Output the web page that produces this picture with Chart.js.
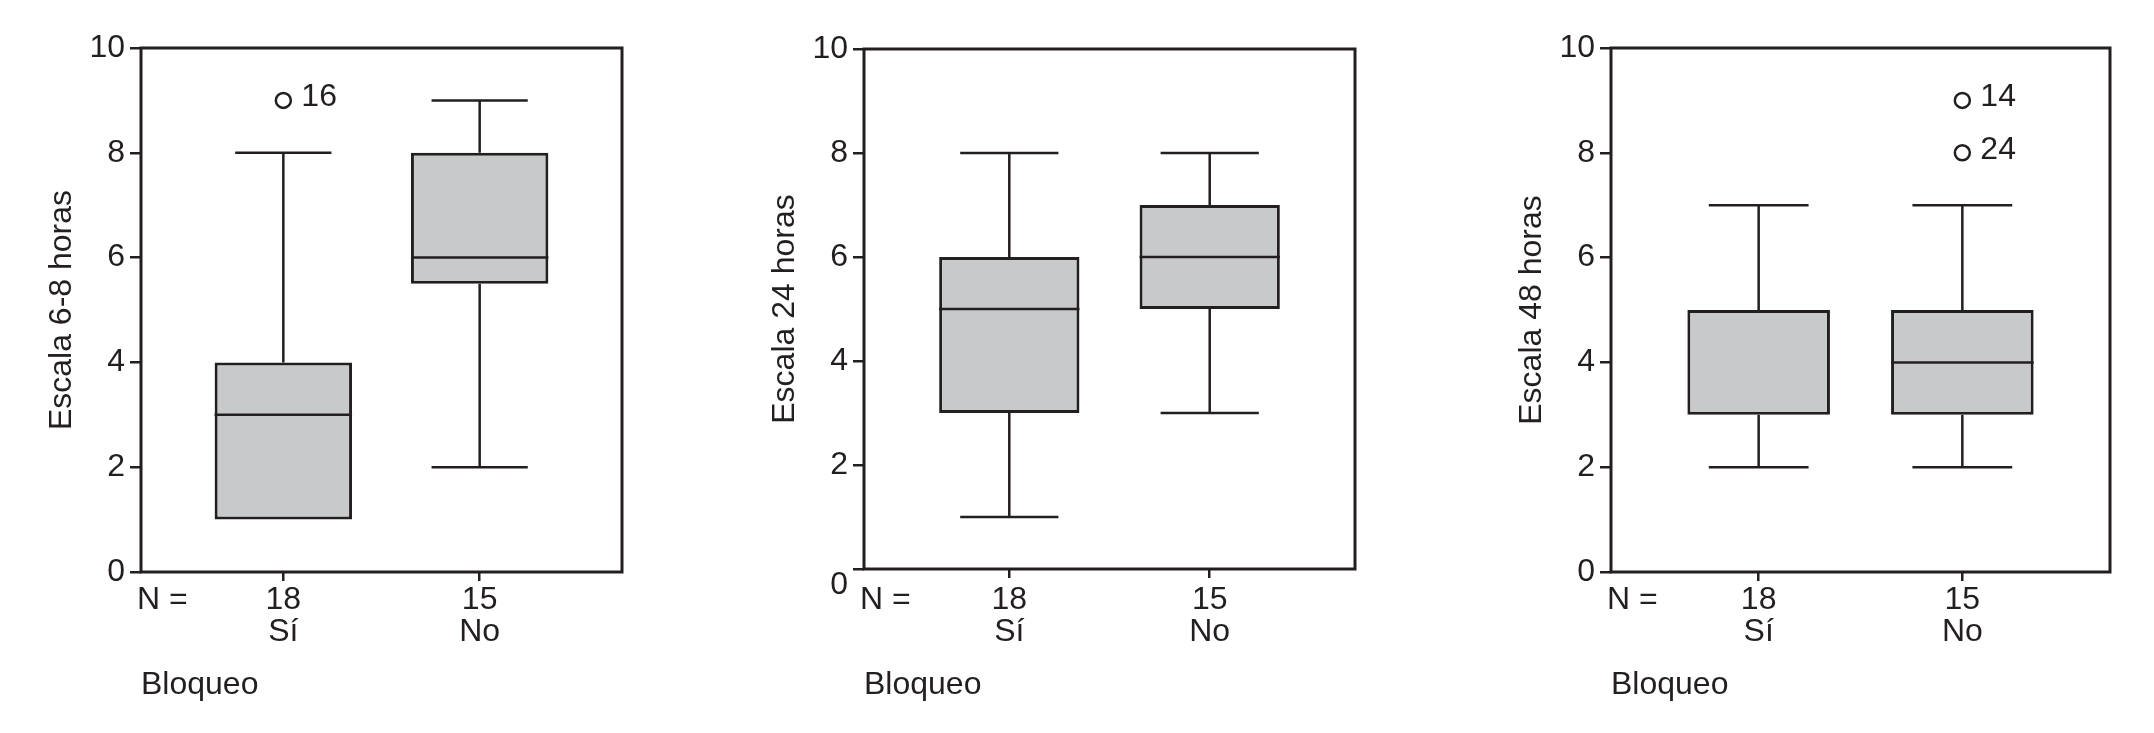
<!DOCTYPE html>
<html>
<head>
<meta charset="utf-8">
<script src="https://cdn.jsdelivr.net/npm/chart.js@4.4.1/dist/chart.umd.min.js"></script>
<style>
  html, body { margin: 0; padding: 0; background: #fff; }
  #wrap { position: relative; width: 2154px; height: 733px; overflow: hidden; background: #fff; }
  #wrap canvas { position: absolute; top: 0; }
</style>
</head>
<body>
<div id="wrap"></div>
<script>
// categories and counts (same for the three panels)
const CATEGORIES = ['Sí', 'No'];
const N_COUNTS = [18, 15];
const Y_TICKS = [0, 2, 4, 6, 8, 10];
const Y_TITLES = ['Escala 6-8 horas', 'Escala 24 horas', 'Escala 48 horas'];
const X_TITLE = 'Bloqueo';

// box plot summaries, one row per panel, [Sí, No]
const WHISKER_LOW  = [[1, 2],   [1, 3], [2, 2]];
const Q1           = [[1, 5.5], [3, 5], [3, 3]];
const MEDIAN       = [[3, 6],   [5, 6], [5, 4]];
const Q3           = [[4, 8],   [6, 7], [5, 5]];
const WHISKER_HIGH = [[8, 9],   [8, 8], [7, 7]];

// outliers, one row per panel
const OUTLIER_GROUP = [[0], [], [1, 1]];
const OUTLIER_VALUE = [[9], [], [9, 8]];
const OUTLIER_ID    = [['16'], [], ['14', '24']];

// look
const INK = '#231f20';
const BOX_FILL = '#c8c9cb';
const FONT = '"Liberation Sans", Arial, Helvetica, sans-serif';
const FONT_SIZE = 32;
const BOX_WIDTH = 0.7;   // share of the gap between categories
const CAP_WIDTH = 0.49;
const X_MIN = -0.725, X_MAX = 1.725;

// plot frames measured on the reference (page pixels)
const FRAMES = [
  { left: 141, right: 622, top: 48, bottom: 572 },
  { left: 864, right: 1355, top: 49, bottom: 569 },
  { left: 1611, right: 2110, top: 48, bottom: 572 },
];
const AXIS_W = 120, PAD_R = 4, PAGE_H = 733;
const X_TICK_LEN = 9, LABEL_MID = 600;

function whiskerPoints(p) {
  const pts = [];
  const gap = (x) => ({ x: x, y: null });
  CATEGORIES.forEach((c, i) => {
    const lo = WHISKER_LOW[p][i], hi = WHISKER_HIGH[p][i];
    // a whisker that ends on the box is not drawn
    if (hi > Q3[p][i]) {
      pts.push({ x: i, y: Q3[p][i] }, { x: i, y: hi }, gap(i));
      pts.push({ x: i - CAP_WIDTH / 2, y: hi }, { x: i + CAP_WIDTH / 2, y: hi }, gap(i));
    }
    if (lo < Q1[p][i]) {
      pts.push({ x: i, y: Q1[p][i] }, { x: i, y: lo }, gap(i));
      pts.push({ x: i - CAP_WIDTH / 2, y: lo }, { x: i + CAP_WIDTH / 2, y: lo }, gap(i));
    }
  });
  return pts;
}

function medianPoints(p) {
  const pts = [];
  CATEGORIES.forEach((c, i) => {
    const m = MEDIAN[p][i];
    if (m === Q1[p][i] || m === Q3[p][i]) return; // sits on the box edge
    pts.push({ x: i - BOX_WIDTH / 2, y: m }, { x: i + BOX_WIDTH / 2, y: m }, { x: i, y: null });
  });
  return pts;
}

const annotate = {
  id: 'annotate',
  beforeDatasetsDraw(chart) {
    const { ctx, chartArea: a } = chart;
    ctx.save();
    ctx.lineWidth = 3;
    ctx.strokeStyle = INK;
    ctx.strokeRect(a.left, a.top, a.right - a.left, a.bottom - a.top);
    ctx.restore();
  },
  afterDatasetsDraw(chart, args, opts) {
    const { ctx, chartArea: a } = chart;
    const p = opts.panel;
    ctx.save();
    ctx.fillStyle = INK;
    ctx.font = FONT_SIZE + 'px ' + FONT;
    ctx.textBaseline = 'middle';
    ctx.textAlign = 'left';
    ctx.fillText('N =', a.left - 4, LABEL_MID);
    const meta = chart.getDatasetMeta(3);
    meta.data.forEach((pt, j) => {
      ctx.fillText(OUTLIER_ID[p][j], pt.x + 18, pt.y - 3);
    });
    ctx.restore();
  }
};

const wrap = document.getElementById('wrap');

FRAMES.forEach((f, p) => {
  const canvas = document.createElement('canvas');
  const w = f.right - f.left + AXIS_W + PAD_R;
  canvas.width = w;
  canvas.height = PAGE_H;
  canvas.style.left = (f.left - AXIS_W) + 'px';
  canvas.style.width = w + 'px';
  canvas.style.height = PAGE_H + 'px';
  wrap.appendChild(canvas);

  const xPad = LABEL_MID - f.bottom - X_TICK_LEN - FONT_SIZE / 2;

  new Chart(canvas, {
    type: 'bar',
    data: {
      datasets: [
        {
          type: 'bar',
          data: CATEGORIES.map((c, i) => ({ x: i, y: [Q1[p][i], Q3[p][i]] })),
          backgroundColor: BOX_FILL,
          borderColor: INK,
          borderWidth: 3,
          borderSkipped: false,
          barPercentage: BOX_WIDTH,
          categoryPercentage: 1,
          order: 3,
        },
        {
          type: 'line',
          data: whiskerPoints(p),
          borderColor: INK,
          borderWidth: 2.5,
          pointRadius: 0,
          spanGaps: false,
          fill: false,
          order: 2,
        },
        {
          type: 'line',
          data: medianPoints(p),
          borderColor: INK,
          borderWidth: 2.5,
          pointRadius: 0,
          spanGaps: false,
          fill: false,
          order: 1,
        },
        {
          type: 'scatter',
          data: OUTLIER_VALUE[p].map((v, j) => ({ x: OUTLIER_GROUP[p][j], y: v })),
          pointRadius: 7.5,
          borderWidth: 2.5,
          borderColor: INK,
          backgroundColor: '#fff',
          order: 0,
        },
      ],
    },
    options: {
      responsive: false,
      animation: false,
      devicePixelRatio: 1,
      layout: {
        autoPadding: false,
        padding: { top: f.top, right: PAD_R, left: 0, bottom: 0 },
      },
      plugins: {
        legend: { display: false },
        tooltip: { enabled: false },
        annotate: { panel: p },
      },
      scales: {
        x: {
          type: 'linear',
          min: X_MIN,
          max: X_MAX,
          offset: false,
          afterBuildTicks: (scale) => {
            scale.ticks = CATEGORIES.map((c, i) => ({ value: i }));
          },
          afterFit: (scale) => { scale.height = PAGE_H - f.bottom; },
          grid: {
            offset: false,
            drawOnChartArea: false,
            drawTicks: true,
            tickLength: X_TICK_LEN,
            color: INK,
            lineWidth: 2.5,
          },
          border: { display: false },
          ticks: {
            color: INK,
            padding: xPad,
            maxRotation: 0,
            autoSkip: false,
            font: { family: FONT, size: FONT_SIZE, lineHeight: 1 },
            callback: (v) => [String(N_COUNTS[v]), CATEGORIES[v]],
          },
          title: {
            display: true,
            text: X_TITLE,
            align: 'start',
            color: INK,
            padding: { top: 0, bottom: 32 },
            font: { family: FONT, size: FONT_SIZE, lineHeight: 1 },
          },
        },
        y: {
          min: 0,
          max: 10,
          afterBuildTicks: (scale) => {
            scale.ticks = Y_TICKS.map((v) => ({ value: v }));
          },
          afterFit: (scale) => { scale.width = AXIS_W; },
          grid: {
            drawOnChartArea: false,
            drawTicks: true,
            tickLength: 11,
            color: INK,
            lineWidth: 2.5,
          },
          border: { display: false },
          ticks: {
            color: INK,
            padding: 5,
            font: { family: FONT, size: FONT_SIZE, lineHeight: 1 },
            // the middle panel prints its 0 a little below the axis
            callback: (v) => (p === 1 && v === 0 ? ['', '0'] : String(v)),
          },
          title: {
            display: true,
            text: Y_TITLES[p],
            color: INK,
            padding: { top: 25, bottom: 0 },
            font: { family: FONT, size: FONT_SIZE, lineHeight: 1 },
          },
        },
      },
    },
    plugins: [annotate],
  });
});
</script>
</body>
</html>
